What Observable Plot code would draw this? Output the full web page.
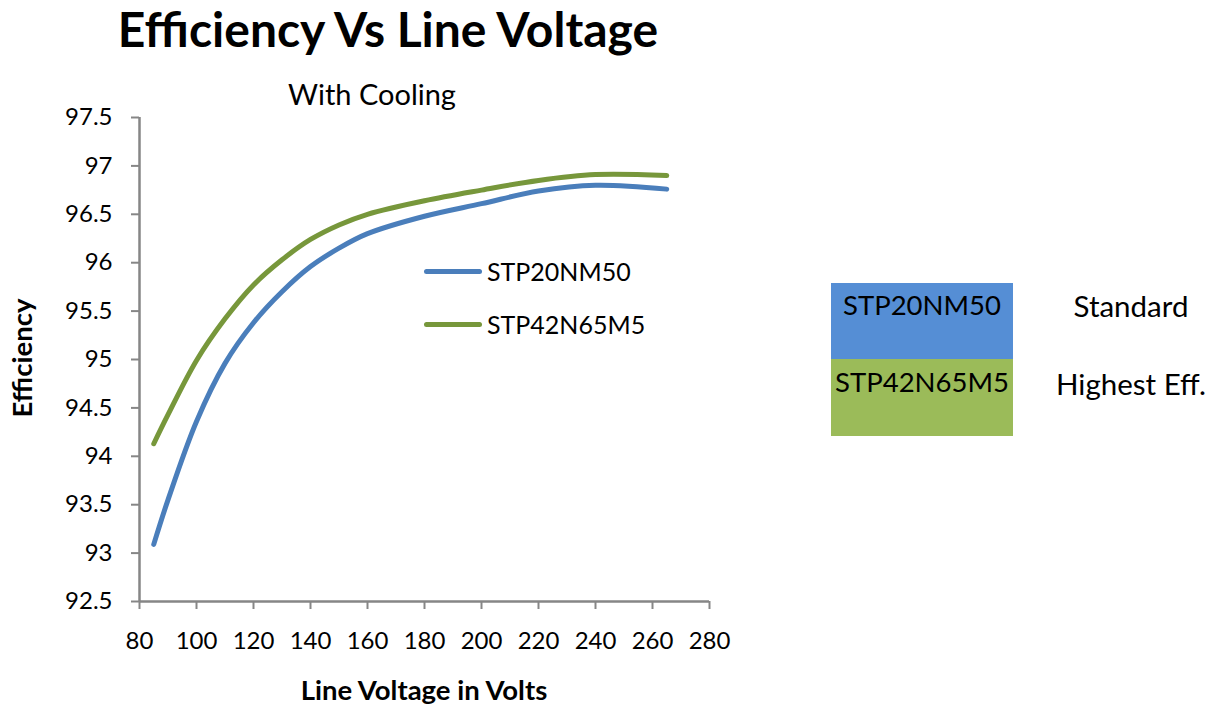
<!DOCTYPE html>
<html>
<head>
<meta charset="utf-8">
<script src="https://cdn.jsdelivr.net/npm/d3@7"></script>
<script src="https://cdn.jsdelivr.net/npm/@observablehq/plot@0.6"></script>
<style>
  html, body { margin: 0; padding: 0; background: #fff; }
  #wrap { position: relative; width: 1219px; height: 706px; overflow: hidden; font-family: Lato, "Open Sans", sans-serif; color: #000; }
  #wrap svg { position: absolute; left: 0; top: 0; }
  .t { position: absolute; white-space: nowrap; line-height: 1; }
  .c { transform: translate(-50%, -50%); }
  .l { transform: translate(0, -50%); }
  .sw { position: absolute; height: 5px; border-radius: 3px; }
  .box { position: absolute; }
</style>
</head>
<body>
<div id="wrap"></div>
<script>
const title = "Efficiency Vs Line Voltage";
const subtitle = "With Cooling";
const xLabel = "Line Voltage in Volts";
const yLabel = "Efficiency";
const seriesNames = ["STP20NM50", "STP42N65M5"];
const seriesNotes = ["Standard", "Highest Eff."];
const lineColors = ["#4a7ebb", "#77973b"];
const boxColors = ["#558ed5", "#9bbb59"];

const voltages = [85, 90, 100, 110, 120, 130, 140, 150, 160, 180, 200, 220, 240, 265];
const stp20nm50 = [93.09, 93.55, 94.36, 94.96, 95.38, 95.70, 95.96, 96.15, 96.30, 96.48, 96.61, 96.74, 96.80, 96.76];
const stp42n65m5 = [94.13, 94.43, 94.99, 95.42, 95.77, 96.03, 96.24, 96.39, 96.50, 96.64, 96.75, 96.85, 96.91, 96.90];

const xTicks = [80, 100, 120, 140, 160, 180, 200, 220, 240, 260, 280];
const yTicks = [92.5, 93, 93.5, 94, 94.5, 95, 95.5, 96, 96.5, 97, 97.5];

const data = [];
voltages.forEach((v, i) => {
  data.push({v, eff: stp20nm50[i], s: seriesNames[0]});
  data.push({v, eff: stp42n65m5[i], s: seriesNames[1]});
});

const axisGrey = "#868686";
const chart = Plot.plot({
  width: 1219,
  height: 706,
  marginLeft: 139,
  marginRight: 510,
  marginTop: 117,
  marginBottom: 105,
  style: {fontFamily: "Lato, 'Open Sans', sans-serif", background: "transparent", overflow: "visible"},
  x: {domain: [80, 280]},
  y: {domain: [92.5, 97.5]},
  color: {domain: seriesNames, range: lineColors},
  marks: [
    Plot.axisY({ticks: yTicks, tickSize: 8, tickPadding: 19, fontSize: 24, stroke: axisGrey, strokeWidth: 2, fill: "#000", label: null, tickFormat: d => String(d)}),
    Plot.axisX({ticks: xTicks, tickSize: 8, tickPadding: 22, fontSize: 24, stroke: axisGrey, strokeWidth: 2, fill: "#000", label: null, tickFormat: d => String(d)}),
    Plot.ruleX([80], {stroke: axisGrey, strokeWidth: 2.5}),
    Plot.ruleY([92.5], {stroke: axisGrey, strokeWidth: 2.5}),
    Plot.line(data, {x: "v", y: "eff", z: "s", stroke: "s", strokeWidth: 5, curve: "catmull-rom", strokeLinecap: "round", strokeLinejoin: "round"})
  ]
});

const wrap = document.getElementById("wrap");
wrap.appendChild(chart);

function addText(txt, x, y, cls, style) {
  const d = document.createElement("div");
  d.className = "t " + cls;
  d.textContent = txt;
  d.style.left = x + "px";
  d.style.top = y + "px";
  Object.assign(d.style, style || {});
  wrap.appendChild(d);
  return d;
}

addText(title, 388, 29, "c", {fontSize: "48px", fontWeight: "700"});
addText(subtitle, 372, 93, "c", {fontSize: "29px"});
addText(xLabel, 424, 690, "c", {fontSize: "27.5px", fontWeight: "700"});
const yl = addText(yLabel, 22, 358, "", {fontSize: "27.5px", fontWeight: "700"});
yl.style.transform = "translate(-50%, -50%) rotate(-90deg)";

// in-plot legend
[271, 324].forEach((y, i) => {
  const s = document.createElement("div");
  s.className = "sw";
  s.style.left = "424px"; s.style.width = "58px";
  s.style.top = (y - 2.5) + "px";
  s.style.background = lineColors[i];
  wrap.appendChild(s);
  addText(seriesNames[i], 487, y, "l", {fontSize: "25px"});
});

// side table
[[283, 76, 305, 306], [359, 77, 382, 384]].forEach(([top, h, ty, ny], i) => {
  const b = document.createElement("div");
  b.className = "box";
  b.style.left = "831px"; b.style.width = "182px";
  b.style.top = top + "px"; b.style.height = h + "px";
  b.style.background = boxColors[i];
  wrap.appendChild(b);
  addText(seriesNames[i], 922, ty, "c", {fontSize: "27.5px"});
  addText(seriesNotes[i], 1131, ny, "c", {fontSize: "29.5px"});
});
</script>
</body>
</html>
